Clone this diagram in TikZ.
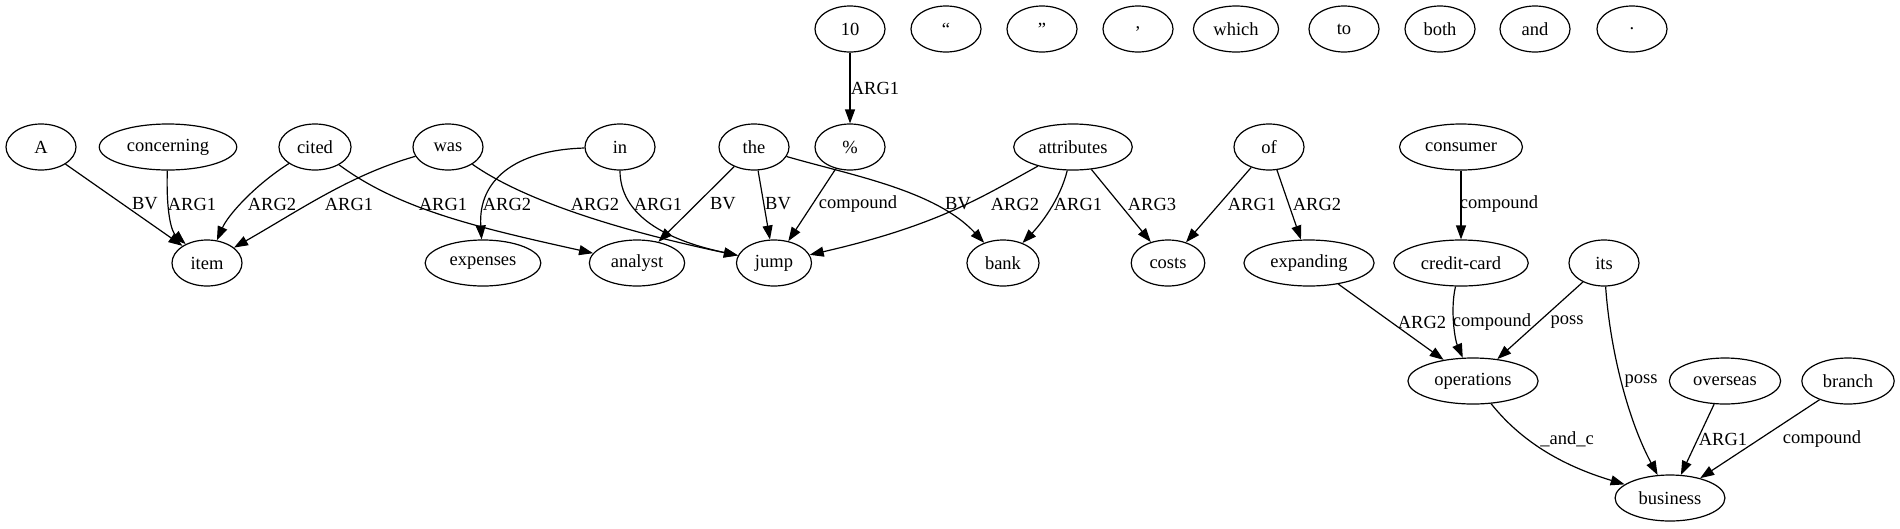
\documentclass[tikz,border=0pt]{standalone}
\usepackage{fontspec}
\setmainfont{Liberation Serif}
\usetikzlibrary{arrows.meta,shapes.geometric}

\begin{document}
\begin{tikzpicture}[x=1pt, y=-1pt,
  word/.style={draw, ellipse, line width=1.2pt, minimum width=70pt, minimum height=46pt, inner xsep=7.5pt, inner ysep=2pt, font=\rmfamily\fontsize{18.5}{20}\selectfont},
  rel/.style={-{Triangle[length=14pt,width=10pt]}, line width=1.2pt},
  lbl/.style={font=\rmfamily\fontsize{18.5}{20}\selectfont, inner sep=1pt}]
\useasboundingbox (0,0) rectangle (1900,528);

% tokens with no edges
\node [word] (ten) at (850,29) {10};
\node [word] (lq) at (946,29) {“};
\node [word] (rq) at (1042,29) {”};
\node [word] (comma) at (1138,29) {,};
\node [word] (which) at (1236,29) {which};
\node [word] (wto) at (1344,29) {to};
\node [word] (both) at (1440,29) {both};
\node [word] (wand) at (1535,29) {and};
\node [word] (stop) at (1632,29) {.};

\node [word] (A) at (41,147) {A};
\node [word] (concerning) at (168,147) {concerning};
\node [word] (cited) at (315,147) {cited};
\node [word] (was) at (448,147) {was};
\node [word] (win) at (620,147) {in};
\node [word] (the) at (754,147) {the};
\node [word] (pct) at (850,147) {\%};
\node [word] (attributes) at (1073,147) {attributes};
\node [word] (of) at (1269,147) {of};
\node [word] (consumer) at (1461,147) {consumer};

\node [word] (item) at (207,263) {item};
\node [word] (expenses) at (483,263) {expenses};
\node [word] (analyst) at (637,263) {analyst};
\node [word] (jump) at (774,263) {jump};
\node [word] (bank) at (1003,263) {bank};
\node [word] (costs) at (1168,263) {costs};
\node [word] (expanding) at (1309,263) {expanding};
\node [word] (creditcard) at (1461,263) {credit-card};
\node [word] (its) at (1604,263) {its};

\node [word] (operations) at (1473,381) {operations};
\node [word] (overseas) at (1725,381) {overseas};
\node [word] (branch) at (1848,381) {branch};

\node [word] (business) at (1670,498) {business};

% edges
\draw [rel] (ten) -- (pct) node [lbl] at (875,88) {ARG1};
\draw [rel] (A) -- (item) node [lbl] at (145,204) {BV};
\draw [rel] (concerning) .. controls (166,215) and (172,232) .. (item) node [lbl] at (192,204) {ARG1};
\draw [rel] (cited) .. controls (255,185) and (228,215) .. (item) node [lbl] at (272,204) {ARG2};
\draw [rel] (was) .. controls (350,175) and (300,210) .. (item) node [lbl] at (349,204) {ARG1};
\draw [rel] (cited) .. controls (400,210) and (480,228) .. (analyst) node [lbl] at (443,204) {ARG1};
\draw [rel] (win) .. controls (515,150) and (478,180) .. (expenses) node [lbl] at (507,204) {ARG2};
\draw [rel] (was) .. controls (530,205) and (640,235) .. (jump) node [lbl] at (595,204) {ARG2};
\draw [rel] (win) .. controls (620,215) and (665,240) .. (jump) node [lbl] at (658,204) {ARG1};
\draw [rel] (the) -- (analyst) node [lbl] at (723,204) {BV};
\draw [rel] (the) -- (jump) node [lbl] at (778,204) {BV};
\draw [rel] (pct) -- (jump) node [lbl] at (858,204) {compound};
\draw [rel] (the) .. controls (850,175) and (935,190) .. (bank) node [lbl] at (958,204) {BV};
\draw [rel] (attributes) .. controls (985,195) and (940,225) .. (jump) node [lbl] at (1015,204) {ARG2};
\draw [rel] (attributes) .. controls (1060,200) and (1040,225) .. (bank) node [lbl] at (1078,204) {ARG1};
\draw [rel] (attributes) -- (costs) node [lbl] at (1152,204) {ARG3};
\draw [rel] (of) -- (costs) node [lbl] at (1252,204) {ARG1};
\draw [rel] (of) -- (expanding) node [lbl] at (1317,204) {ARG2};
\draw [rel] (consumer) -- (creditcard) node [lbl] at (1499,204) {compound};

\draw [rel] (expanding) -- (operations) node [lbl] at (1422,322) {ARG2};
\draw [rel] (creditcard) .. controls (1450,310) and (1455,340) .. (operations) node [lbl] at (1492,322) {compound};
\draw [rel] (its) -- (operations) node [lbl] at (1567,322) {poss};
\draw [rel] (its) .. controls (1610,350) and (1628,420) .. (business) node [lbl] at (1641,381) {poss};
\draw [rel] (operations) .. controls (1520,440) and (1560,465) .. (business) node [lbl] at (1567,439) {\_and\_c};
\draw [rel] (overseas) -- (business) node [lbl] at (1723,439) {ARG1};
\draw [rel] (branch) -- (business) node [lbl] at (1822,439) {compound};
\end{tikzpicture}
\end{document}
